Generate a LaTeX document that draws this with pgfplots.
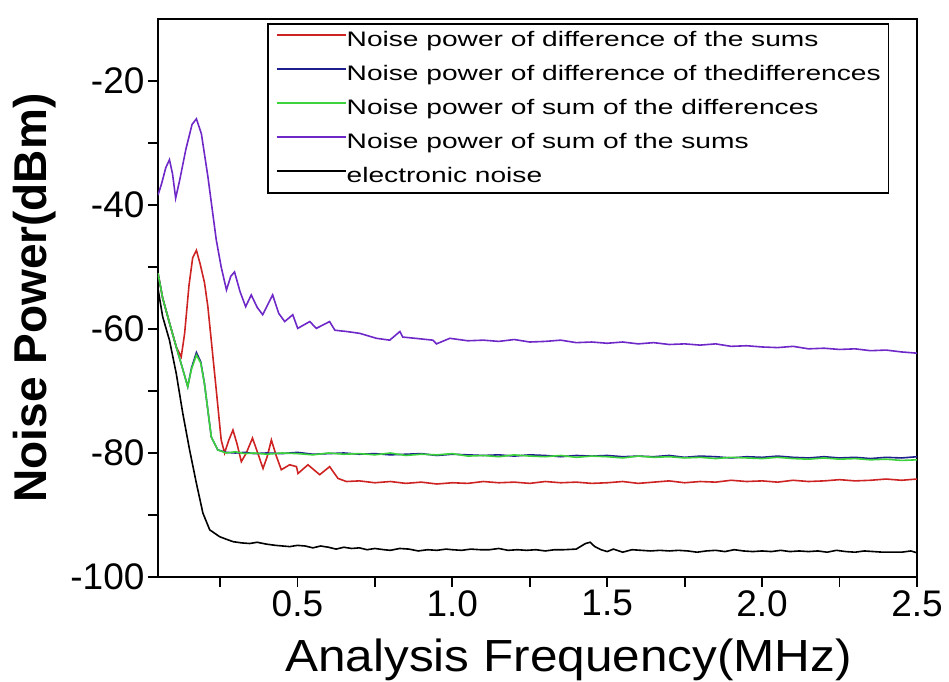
\documentclass[border=0pt]{standalone}
\usepackage{fontspec}
\setmainfont{Liberation Sans}
\newfontfamily\legfont[FakeStretch=1.34]{Liberation Sans}
\newfontfamily\xlabfont[FakeStretch=1.1]{Liberation Sans}
\usepackage{pgfplots}
\pgfplotsset{compat=1.18}
\definecolor{cred}{RGB}{205,35,35}
\definecolor{cblue}{RGB}{30,30,140}
\definecolor{cgreen}{RGB}{60,210,60}
\definecolor{cpurple}{RGB}{110,40,200}
\begin{document}
\begin{tikzpicture}
\begin{axis}[
  scale only axis,
  width=759pt, height=558pt,
  xmin=0.05, xmax=2.5, ymin=-100, ymax=-10,
  axis line style={line width=2.2pt},
  tick style={line width=1.8pt, black},
  tick align=outside, tick pos=left,
  major tick length=10pt, minor tick length=10pt,
  xtick={0.5,1.0,1.5,2.0,2.5},
  minor xtick={0.25,0.75,1.25,1.75,2.25},
  ytick={-100,-80,-60,-40,-20},
  minor ytick={-90,-70,-50,-30},
  /pgf/number format/assume math mode=true,
  tick label style={font=\fontsize{37}{40}\selectfont},
  xticklabel style={/pgf/number format/.cd, fixed, fixed zerofill, precision=1},
  yticklabel style={/pgf/number format/.cd, fixed, precision=0},
  xlabel={Analysis Frequency(MHz)},
  ylabel={Noise Power(dBm)},
  every axis x label/.style={at={(axis description cs:0.541,0)}, anchor=base, yshift=-95pt, font=\xlabfont\fontsize{45}{48}\selectfont},
  every axis y label/.style={at={(axis description cs:0,0.5)}, xshift=-123pt, rotate=90, anchor=center, font=\bfseries\fontsize{46}{50}\selectfont},
  legend cell align=left,
  legend style={at={(0.144,0.992)}, anchor=north west, draw=black, line width=1.6pt,
    font=\legfont\fontsize{21}{24}\selectfont,
    inner xsep=8pt, inner ysep=7pt, row sep=15pt,
    nodes={inner sep=0pt, text height=15pt, text depth=4pt}},
  legend image code/.code={\draw[#1, line width=1.6pt] (0pt,5.5pt) -- (60pt,5.5pt); \path (0pt,5.5pt) -- (69pt,5.5pt);},
  every axis plot/.append style={line width=1.6pt},
]
\addplot[cred] coordinates {
(0.05,-51) (0.065,-55) (0.087,-59) (0.109,-62.9) (0.125,-64.5) (0.136,-60.7) (0.150,-53) (0.162,-48.5) (0.174,-47.3) (0.186,-49.5) (0.200,-52.5) (0.211,-56.4) (0.238,-69.8) (0.254,-77.9) (0.265,-80) (0.278,-78) (0.292,-76.3) (0.305,-78.5) (0.319,-81.4) (0.335,-80) (0.355,-77.6) (0.372,-80) (0.389,-82.5) (0.403,-80.5) (0.416,-77.9) (0.432,-80.5) (0.448,-82.7) (0.475,-81.9) (0.497,-82.2) (0.502,-83.3) (0.534,-81.9) (0.572,-83.5) (0.604,-82.2) (0.631,-84.1) (0.658,-84.6)
(0.70,-84.5) (0.75,-84.8) (0.80,-84.6) (0.85,-84.9) (0.90,-84.7) (0.95,-85.0) (1.00,-84.8) (1.05,-84.9) (1.10,-84.6) (1.15,-84.8) (1.20,-84.7) (1.25,-84.9) (1.30,-84.6) (1.35,-84.8) (1.40,-84.7) (1.45,-84.9) (1.50,-84.8) (1.55,-84.6) (1.60,-84.9) (1.65,-84.7) (1.70,-84.5) (1.75,-84.8) (1.80,-84.6) (1.85,-84.7) (1.90,-84.4) (1.95,-84.6) (2.00,-84.5) (2.05,-84.7) (2.10,-84.4) (2.15,-84.6) (2.20,-84.5) (2.25,-84.3) (2.30,-84.5) (2.35,-84.4) (2.40,-84.2) (2.45,-84.4) (2.50,-84.2)
};
\addlegendentry{Noise power of difference of the sums}
\addplot[cblue] coordinates {
(0.05,-51) (0.065,-55) (0.087,-59) (0.109,-62.9) (0.130,-66.5) (0.146,-69.3) (0.158,-66.3) (0.174,-63.8) (0.188,-65.3) (0.200,-68.8) (0.212,-73.5) (0.222,-77.4) (0.243,-79.5) (0.27,-79.9)
(0.30,-80.0) (0.33,-79.9) (0.36,-80.1) (0.40,-80.0) (0.45,-80.1) (0.50,-79.9) (0.55,-80.2) (0.60,-80.1) (0.65,-80.0) (0.70,-80.2) (0.75,-80.1) (0.80,-80.3) (0.85,-80.2) (0.90,-80.1) (0.95,-80.4) (1.00,-80.2) (1.05,-80.3) (1.10,-80.4) (1.15,-80.3) (1.20,-80.5) (1.25,-80.3) (1.30,-80.4) (1.35,-80.6) (1.40,-80.4) (1.45,-80.5) (1.50,-80.4) (1.55,-80.6) (1.60,-80.5) (1.65,-80.6) (1.70,-80.4) (1.75,-80.7) (1.80,-80.5) (1.85,-80.6) (1.90,-80.8) (1.95,-80.6) (2.00,-80.7) (2.05,-80.5) (2.10,-80.7) (2.15,-80.8) (2.20,-80.6) (2.25,-80.8) (2.30,-80.7) (2.35,-80.9) (2.40,-80.7) (2.45,-80.8) (2.50,-80.6)
};
\addlegendentry{Noise power of difference of thedifferences}
\addplot[cgreen] coordinates {
(0.05,-51) (0.065,-55) (0.087,-59) (0.109,-62.9) (0.130,-66.5) (0.146,-69.3) (0.158,-66.5) (0.174,-64.2) (0.188,-65.5) (0.200,-68.8) (0.212,-73.5) (0.222,-77.4) (0.243,-79.5) (0.27,-80.0)
(0.30,-79.8) (0.33,-80.1) (0.36,-80.0) (0.40,-80.2) (0.45,-80.0) (0.50,-80.1) (0.55,-80.3) (0.60,-80.0) (0.65,-80.2) (0.70,-80.1) (0.75,-80.3) (0.80,-80.0) (0.85,-80.4) (0.90,-80.2) (0.95,-80.3) (1.00,-80.1) (1.05,-80.5) (1.10,-80.4) (1.15,-80.6) (1.20,-80.3) (1.25,-80.5) (1.30,-80.6) (1.35,-80.4) (1.40,-80.7) (1.45,-80.5) (1.50,-80.6) (1.55,-80.8) (1.60,-80.5) (1.65,-80.7) (1.70,-80.6) (1.75,-80.8) (1.80,-80.7) (1.85,-80.9) (1.90,-80.7) (1.95,-80.8) (2.00,-80.9) (2.05,-80.7) (2.10,-80.9) (2.15,-81.0) (2.20,-80.8) (2.25,-81.0) (2.30,-80.9) (2.35,-81.1) (2.40,-81.0) (2.45,-81.2) (2.50,-81.1)
};
\addlegendentry{Noise power of sum of the differences}
\addplot[cpurple] coordinates {
(0.05,-38.4) (0.062,-36.5) (0.075,-34) (0.087,-32.7) (0.097,-35) (0.107,-38.9) (0.12,-36) (0.14,-31) (0.16,-27) (0.174,-26.1) (0.19,-28.5) (0.211,-35.4) (0.238,-45.6) (0.254,-50) (0.271,-53.7) (0.285,-51.5) (0.297,-50.8) (0.315,-54) (0.333,-56.4) (0.351,-54.5) (0.370,-56.5) (0.388,-57.7) (0.42,-54.5) (0.44,-57.5) (0.459,-58.8) (0.485,-57.7) (0.501,-59.9) (0.54,-58.8) (0.561,-59.9) (0.604,-58.8) (0.621,-60.2) (0.658,-60.4) (0.701,-60.7) (0.755,-61.5) (0.798,-61.8) (0.831,-60.4) (0.84,-61.3) (0.88,-61.5) (0.937,-61.8) (0.949,-62.4) (0.992,-61.5)
(1.05,-61.9) (1.10,-61.8) (1.15,-62.0) (1.20,-61.7) (1.25,-62.1) (1.30,-62.0) (1.35,-61.8) (1.40,-62.2) (1.45,-62.1) (1.50,-62.3) (1.55,-62.1) (1.60,-62.4) (1.65,-62.2) (1.70,-62.5) (1.75,-62.4) (1.80,-62.6) (1.85,-62.4) (1.90,-62.8) (1.95,-62.7) (2.00,-62.9) (2.05,-63.0) (2.10,-62.8) (2.15,-63.2) (2.20,-63.1) (2.25,-63.3) (2.30,-63.2) (2.35,-63.5) (2.40,-63.4) (2.45,-63.7) (2.50,-63.9)
};
\addlegendentry{Noise power of sum of the sums}
\addplot[black] coordinates {
(0.05,-53.5) (0.065,-58) (0.087,-61.8) (0.109,-67.2) (0.130,-73.6) (0.152,-79.5) (0.174,-84.9) (0.195,-89.7) (0.217,-92.4) (0.249,-93.5) (0.27,-93.9) (0.292,-94.3) (0.32,-94.5) (0.346,-94.6) (0.37,-94.4) (0.40,-94.7) (0.43,-94.9) (0.475,-95.1) (0.50,-94.9) (0.525,-95.0) (0.55,-95.3) (0.575,-95.0) (0.60,-95.2) (0.625,-95.5) (0.65,-95.2) (0.675,-95.4) (0.70,-95.3) (0.725,-95.6) (0.75,-95.4) (0.78,-95.6) (0.80,-95.7) (0.83,-95.4) (0.86,-95.5) (0.89,-95.8) (0.92,-95.6) (0.95,-95.7) (0.98,-95.5) (1.00,-95.6)
(1.03,-95.7) (1.06,-95.5) (1.09,-95.6) (1.12,-95.6) (1.15,-95.4) (1.18,-95.7) (1.21,-95.6) (1.24,-95.7) (1.27,-95.6) (1.30,-95.8) (1.33,-95.6) (1.36,-95.6) (1.40,-95.5) (1.43,-94.6) (1.445,-94.4) (1.46,-95.1) (1.48,-95.6) (1.50,-95.9) (1.52,-95.5) (1.55,-96.0) (1.58,-95.6) (1.61,-95.7) (1.64,-95.8) (1.67,-95.7) (1.70,-95.8) (1.73,-95.7) (1.76,-95.8) (1.79,-96.0) (1.82,-95.8) (1.85,-95.7) (1.88,-95.9) (1.91,-95.6) (1.94,-95.8) (1.97,-95.9) (2.00,-95.8) (2.03,-95.9) (2.06,-95.7) (2.09,-95.9) (2.12,-95.8) (2.15,-95.9) (2.18,-95.8) (2.21,-96.0) (2.24,-95.7) (2.27,-95.9) (2.30,-96.0) (2.33,-95.8) (2.36,-95.9) (2.39,-96.0) (2.42,-96.0) (2.45,-96.0) (2.48,-95.8) (2.50,-96.1)
};
\addlegendentry{electronic noise}
\end{axis}
\pgfresetboundingbox
\path (current axis.south west) ++(-158pt,-105pt) rectangle ([shift={(32pt,19pt)}]current axis.north east);
\end{tikzpicture}
\end{document}
